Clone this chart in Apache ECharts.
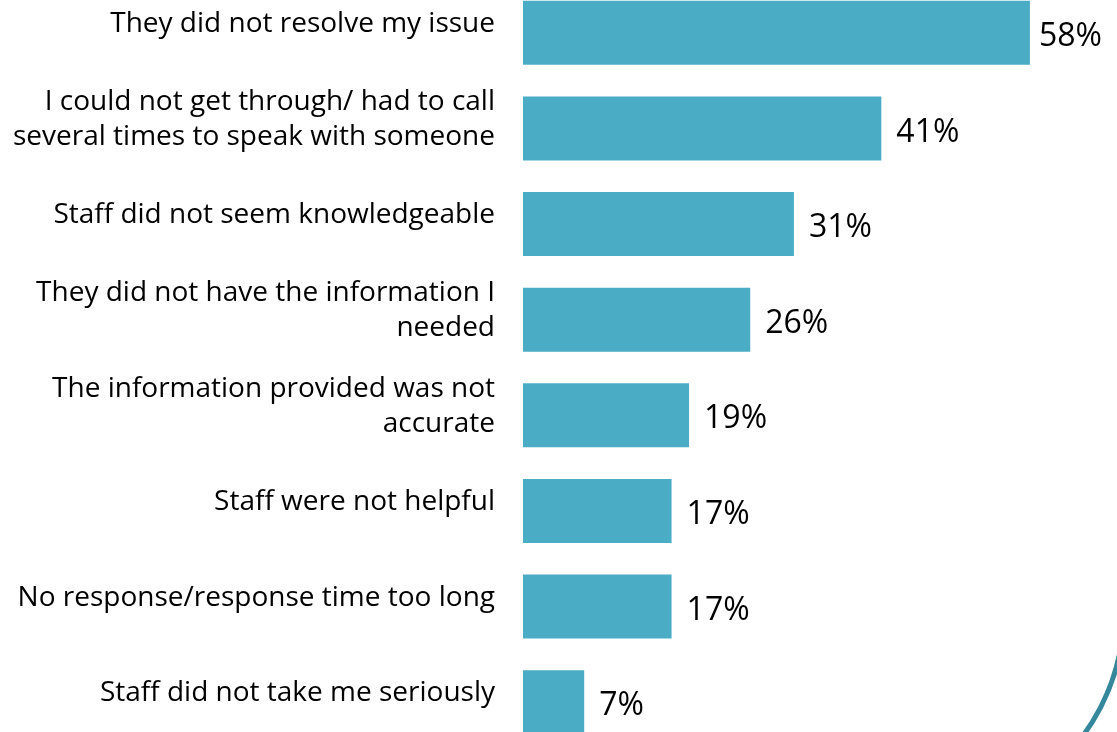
<!DOCTYPE html>
<html><head><meta charset="utf-8">
<script src="https://cdn.jsdelivr.net/npm/echarts@6/dist/echarts.min.js"></script>
<style>html,body{margin:0;padding:0;background:#fff;overflow:hidden;width:1117px;height:732px}
#c{position:absolute;left:0;top:-30px;width:1117px;height:795px}</style>
</head><body><div id="c"></div>
<script>
const categories = [
  "They did not resolve my issue",
  "I could not get through/ had to call\nseveral times to speak with someone",
  "Staff did not seem knowledgeable",
  "They did not have the information I\nneeded",
  "The information provided was not\naccurate",
  "Staff were not helpful",
  "No response/response time too long",
  "Staff did not take me seriously"
];
const values = [58, 41, 31, 26, 19, 17, 17, 7];
const FONT = "Open Sans";
const chart = echarts.init(document.getElementById('c'));
chart.setOption({
  animation: false,
  grid: [
    {left: 523, top: 15, width: 524.4, height: 765, containLabel: false},
    {left: 523, top: 6, width: 524.4, height: 765, containLabel: false}
  ],
  xAxis: [
    {type: 'value', min: 0, max: 60, show: false, gridIndex: 0},
    {type: 'value', min: 0, max: 60, show: false, gridIndex: 1}
  ],
  yAxis: [
    {type: 'category', data: categories, inverse: true, gridIndex: 0,
      axisLine: {show: false}, axisTick: {show: false}, axisLabel: {show: false}},
    {type: 'category', data: categories, inverse: true, gridIndex: 1,
      axisLine: {show: false}, axisTick: {show: false},
      axisLabel: {color: '#000', fontFamily: FONT, fontSize: 28, lineHeight: 35,
        margin: 28, align: 'right'}}
  ],
  series: [{
    type: 'bar', xAxisIndex: 0, yAxisIndex: 0, barCategoryGap: '33%',
    data: values.map((v, i) => i === 0 ? {value: v, label: {distance: 9}} : v),
    itemStyle: {color: '#4bacc6'},
    label: {show: true, position: 'right', distance: 15, offset: [0, 4], formatter: '{c}%',
      color: '#000', fontFamily: FONT, fontSize: 32}
  }],
  graphic: [{
    type: 'arc', shape: {cx: 914, cy: 641, r: 210, startAngle: 0.15, endAngle: 0.8, clockwise: true},
    silent: true,
    style: {fill: 'none', stroke: '#35889b', lineWidth: 5}
  }]
});
</script></body></html>
